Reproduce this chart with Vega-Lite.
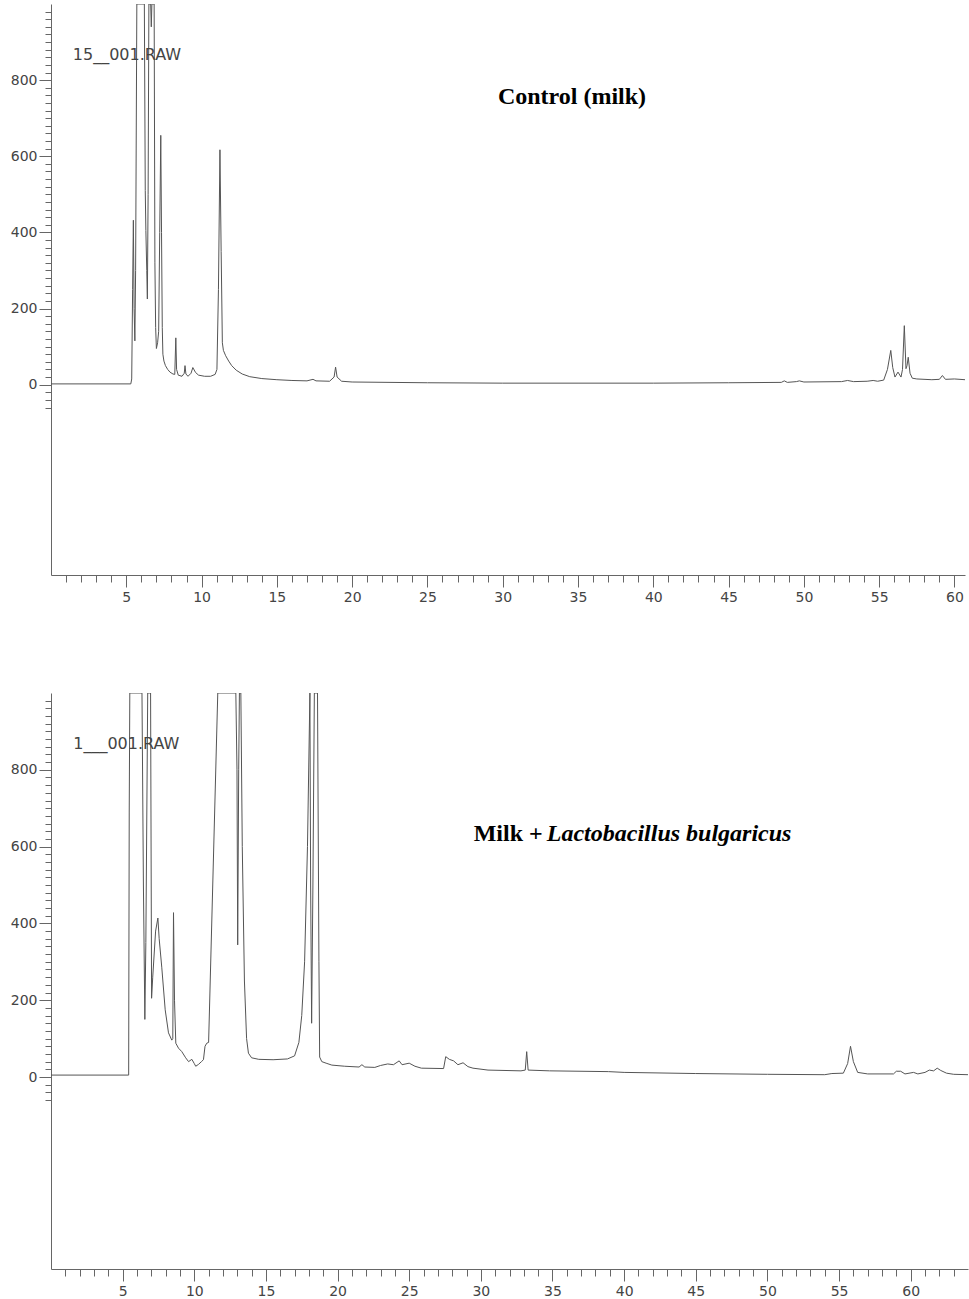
{
  "$schema": "https://vega.github.io/schema/vega-lite/v6.json",
  "background": "white",
  "padding": {"left": 10, "top": 4, "right": 2, "bottom": 2},
  "config": {
    "view": {"stroke": null},
    "axis": {"domainColor": "#666", "tickColor": "#666", "labelColor": "#444", "labelFont": "DejaVu Sans", "labelFontSize": 14, "title": null, "grid": false, "labelBound": false, "labelOverlap": false, "labelFlush": false, "tickCount": 500, "format": "d"},
    "concat": {"spacing": 89}
  },
  "datasets": {
    "control": [
      {"t":0,"v":2},{"t":5.3,"v":2},{"t":5.36,"v":15},{"t":5.42,"v":250},{"t":5.47,"v":432},{"t":5.52,"v":200},{"t":5.57,"v":115},{"t":5.62,"v":300},{"t":5.7,"v":1000},{"t":6.2,"v":1000},{"t":6.26,"v":510},{"t":6.3,"v":405},{"t":6.36,"v":300},{"t":6.4,"v":225},{"t":6.45,"v":500},{"t":6.5,"v":1000},{"t":6.62,"v":1000},{"t":6.66,"v":940},{"t":6.7,"v":1000},{"t":6.85,"v":1000},{"t":6.9,"v":320},{"t":6.95,"v":150},{"t":7.0,"v":95},{"t":7.08,"v":110},{"t":7.15,"v":140},{"t":7.22,"v":400},{"t":7.29,"v":655},{"t":7.34,"v":400},{"t":7.39,"v":150},{"t":7.43,"v":80},{"t":7.5,"v":62},{"t":7.6,"v":50},{"t":7.75,"v":40},{"t":7.9,"v":33},{"t":8.1,"v":28},{"t":8.22,"v":27},{"t":8.29,"v":123},{"t":8.34,"v":40},{"t":8.45,"v":25},{"t":8.7,"v":22},{"t":8.85,"v":30},{"t":8.9,"v":50},{"t":8.96,"v":28},{"t":9.1,"v":22},{"t":9.3,"v":30},{"t":9.42,"v":45},{"t":9.6,"v":32},{"t":9.8,"v":25},{"t":10.2,"v":22},{"t":10.6,"v":22},{"t":10.9,"v":27},{"t":11.02,"v":40},{"t":11.12,"v":250},{"t":11.22,"v":617},{"t":11.3,"v":350},{"t":11.38,"v":110},{"t":11.45,"v":90},{"t":11.6,"v":76},{"t":11.8,"v":62},{"t":12.0,"v":50},{"t":12.3,"v":38},{"t":12.7,"v":28},{"t":13.2,"v":21},{"t":14,"v":16},{"t":15,"v":13},{"t":16,"v":11},{"t":17,"v":10},{"t":17.4,"v":14},{"t":17.6,"v":10},{"t":18.5,"v":9},{"t":18.8,"v":20},{"t":18.9,"v":46},{"t":19.0,"v":20},{"t":19.3,"v":9},{"t":20,"v":7},{"t":25,"v":5},{"t":30,"v":4},{"t":35,"v":4},{"t":40,"v":4},{"t":45,"v":5},{"t":48.5,"v":6},{"t":48.7,"v":10},{"t":48.9,"v":6},{"t":49.5,"v":8},{"t":49.7,"v":10},{"t":50,"v":7},{"t":52.5,"v":8},{"t":52.9,"v":11},{"t":53.3,"v":8},{"t":54.2,"v":9},{"t":54.6,"v":11},{"t":54.9,"v":9},{"t":55.3,"v":12},{"t":55.55,"v":40},{"t":55.77,"v":90},{"t":55.9,"v":45},{"t":56.05,"v":20},{"t":56.25,"v":33},{"t":56.45,"v":20},{"t":56.55,"v":40},{"t":56.67,"v":155},{"t":56.78,"v":42},{"t":56.85,"v":50},{"t":56.93,"v":72},{"t":57.05,"v":30},{"t":57.2,"v":17},{"t":57.5,"v":15},{"t":58.5,"v":13},{"t":59.0,"v":14},{"t":59.2,"v":24},{"t":59.4,"v":14},{"t":60,"v":15},{"t":60.7,"v":13}
    ],
    "lb": [
      {"t":0,"v":5},{"t":5.42,"v":5},{"t":5.46,"v":690},{"t":5.5,"v":1000},{"t":6.35,"v":1000},{"t":6.45,"v":500},{"t":6.55,"v":150},{"t":6.62,"v":350},{"t":6.75,"v":1000},{"t":6.95,"v":1000},{"t":7.02,"v":205},{"t":7.1,"v":260},{"t":7.3,"v":380},{"t":7.46,"v":414},{"t":7.55,"v":360},{"t":7.73,"v":286},{"t":7.97,"v":175},{"t":8.2,"v":115},{"t":8.43,"v":96},{"t":8.5,"v":100},{"t":8.55,"v":428},{"t":8.62,"v":200},{"t":8.71,"v":88},{"t":8.9,"v":75},{"t":9.13,"v":66},{"t":9.4,"v":50},{"t":9.6,"v":40},{"t":9.83,"v":46},{"t":10.0,"v":35},{"t":10.1,"v":28},{"t":10.3,"v":33},{"t":10.5,"v":40},{"t":10.64,"v":45},{"t":10.75,"v":80},{"t":10.87,"v":88},{"t":11.0,"v":90},{"t":11.64,"v":1000},{"t":12.9,"v":1000},{"t":12.98,"v":800},{"t":13.03,"v":344},{"t":13.1,"v":800},{"t":13.15,"v":1000},{"t":13.25,"v":1000},{"t":13.35,"v":600},{"t":13.5,"v":250},{"t":13.65,"v":100},{"t":13.78,"v":62},{"t":14.0,"v":50},{"t":14.5,"v":46},{"t":15.5,"v":45},{"t":16.5,"v":47},{"t":17.0,"v":55},{"t":17.3,"v":90},{"t":17.5,"v":160},{"t":17.7,"v":300},{"t":17.9,"v":600},{"t":18.07,"v":1000},{"t":18.12,"v":500},{"t":18.19,"v":140},{"t":18.28,"v":500},{"t":18.38,"v":1000},{"t":18.6,"v":1000},{"t":18.7,"v":300},{"t":18.75,"v":52},{"t":18.9,"v":40},{"t":19.2,"v":36},{"t":19.6,"v":31},{"t":20.5,"v":28},{"t":21.5,"v":26},{"t":21.7,"v":32},{"t":21.9,"v":26},{"t":22.6,"v":25},{"t":23.0,"v":30},{"t":23.5,"v":34},{"t":23.9,"v":32},{"t":24.3,"v":42},{"t":24.5,"v":32},{"t":25.0,"v":36},{"t":25.4,"v":28},{"t":25.85,"v":23},{"t":27.4,"v":22},{"t":27.55,"v":53},{"t":27.8,"v":46},{"t":28.1,"v":42},{"t":28.4,"v":32},{"t":28.76,"v":37},{"t":29.1,"v":27},{"t":29.45,"v":23},{"t":30.5,"v":18},{"t":32.8,"v":16},{"t":33.1,"v":18},{"t":33.2,"v":66},{"t":33.3,"v":18},{"t":34.8,"v":16},{"t":38.9,"v":14},{"t":40,"v":12},{"t":45,"v":9},{"t":50,"v":7},{"t":54,"v":6},{"t":54.5,"v":9},{"t":55.3,"v":10},{"t":55.6,"v":35},{"t":55.8,"v":80},{"t":56.0,"v":40},{"t":56.3,"v":12},{"t":57,"v":8},{"t":58.8,"v":8},{"t":59.0,"v":15},{"t":59.3,"v":15},{"t":59.6,"v":8},{"t":60.2,"v":12},{"t":60.5,"v":8},{"t":61.0,"v":12},{"t":61.3,"v":18},{"t":61.6,"v":16},{"t":61.85,"v":23},{"t":62.1,"v":17},{"t":62.5,"v":10},{"t":63,"v":7},{"t":64,"v":6}
    ]
  },
  "vconcat": [
    {
      "width": 914,
      "height": 571,
      "layer": [
        {
          "data": {"name": "control"},
          "mark": {"type": "line", "clip": true, "color": "#555", "strokeWidth": 1},
          "encoding": {
            "x": {"field": "t", "type": "quantitative", "scale": {"domain": [0, 60.7], "nice": false, "zero": false},
              "axis": {"values": [1,2,3,4,5,6,7,8,9,10,11,12,13,14,15,16,17,18,19,20,21,22,23,24,25,26,27,28,29,30,31,32,33,34,35,36,37,38,39,40,41,42,43,44,45,46,47,48,49,50,51,52,53,54,55,56,57,58,59,60],
                "tickCount": 500,
                "format": "d",
                "labelExpr": "datum.value % 5 == 0 ? datum.label : ''",
                "tickSize": {"condition": {"test": "datum.value % 5 == 0", "value": 12}, "value": 7},
                "labelPadding": 3}},
            "y": {"field": "v", "type": "quantitative", "scale": {"domain": [-500, 1000], "nice": false, "zero": false},
              "axis": {"values": [-60,-40,-20,0,20,40,60,80,100,120,140,160,180,200,220,240,260,280,300,320,340,360,380,400,420,440,460,480,500,520,540,560,580,600,620,640,660,680,700,720,740,760,780,800,820,840,860,880,900,920,940,960,980],
                "tickCount": 500,
                "format": "d",
                "labelExpr": "(datum.value % 200 == 0 && datum.value >= 0 && datum.value <= 800) ? datum.label : ''",
                "tickSize": {"condition": {"test": "datum.value % 200 == 0", "value": 12}, "value": 6},
                "labelPadding": 2}}
          }
        },
        {
          "data": {"values": [{"label": "15__001.RAW"}]},
          "mark": {"type": "text", "align": "left", "baseline": "middle", "font": "DejaVu Sans", "fontSize": 16, "color": "#444"},
          "encoding": {"x": {"datum": 1.45}, "y": {"datum": 866}, "text": {"field": "label"}}
        },
        {
          "data": {"values": [{"label": "Control (milk)"}]},
          "mark": {"type": "text", "align": "center", "baseline": "middle", "font": "Liberation Serif", "fontWeight": "bold", "fontSize": 24, "color": "#000"},
          "encoding": {"x": {"datum": 34.6}, "y": {"datum": 756}, "text": {"field": "label"}}
        }
      ]
    },
    {
      "width": 917,
      "height": 576,
      "layer": [
        {
          "data": {"name": "lb"},
          "mark": {"type": "line", "clip": true, "color": "#555", "strokeWidth": 1},
          "encoding": {
            "x": {"field": "t", "type": "quantitative", "scale": {"domain": [0, 64], "nice": false, "zero": false},
              "axis": {"values": [1,2,3,4,5,6,7,8,9,10,11,12,13,14,15,16,17,18,19,20,21,22,23,24,25,26,27,28,29,30,31,32,33,34,35,36,37,38,39,40,41,42,43,44,45,46,47,48,49,50,51,52,53,54,55,56,57,58,59,60,61,62,63],
                "tickCount": 500,
                "format": "d",
                "labelExpr": "datum.value % 5 == 0 ? datum.label : ''",
                "tickSize": {"condition": {"test": "datum.value % 5 == 0", "value": 12}, "value": 7},
                "labelPadding": 3}},
            "y": {"field": "v", "type": "quantitative", "scale": {"domain": [-500, 1000], "nice": false, "zero": false},
              "axis": {"values": [-60,-40,-20,0,20,40,60,80,100,120,140,160,180,200,220,240,260,280,300,320,340,360,380,400,420,440,460,480,500,520,540,560,580,600,620,640,660,680,700,720,740,760,780,800,820,840,860,880,900,920,940,960,980],
                "tickCount": 500,
                "format": "d",
                "labelExpr": "(datum.value % 200 == 0 && datum.value >= 0 && datum.value <= 800) ? datum.label : ''",
                "tickSize": {"condition": {"test": "datum.value % 200 == 0", "value": 12}, "value": 6},
                "labelPadding": 2}}
          }
        },
        {
          "data": {"values": [{"label": "1___001.RAW"}]},
          "mark": {"type": "text", "align": "left", "baseline": "middle", "font": "DejaVu Sans", "fontSize": 16, "color": "#444"},
          "encoding": {"x": {"datum": 1.55}, "y": {"datum": 867}, "text": {"field": "label"}}
        },
        {
          "data": {"values": [{"label": "Milk +"}]},
          "mark": {"type": "text", "align": "left", "baseline": "middle", "font": "Liberation Serif", "fontWeight": "bold", "fontSize": 24, "color": "#000"},
          "encoding": {"x": {"datum": 29.5}, "y": {"datum": 633}, "text": {"field": "label"}}
        },
        {
          "data": {"values": [{"label": "Lactobacillus bulgaricus"}]},
          "mark": {"type": "text", "align": "left", "baseline": "middle", "font": "Liberation Serif", "fontWeight": "bold", "fontStyle": "italic", "fontSize": 24, "color": "#000"},
          "encoding": {"x": {"datum": 34.6}, "y": {"datum": 633}, "text": {"field": "label"}}
        }
      ]
    }
  ]
}
